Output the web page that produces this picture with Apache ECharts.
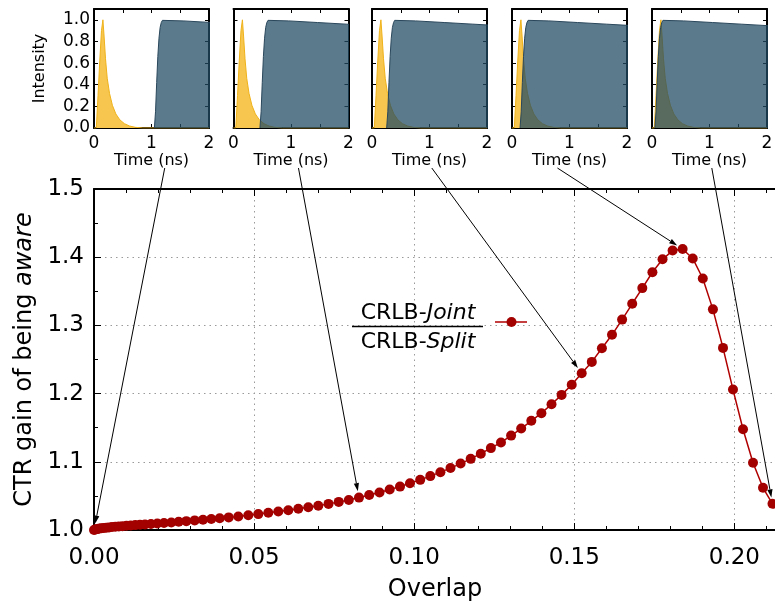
<!DOCTYPE html>
<html>
<head>
<meta charset="utf-8">
<script src="https://cdn.jsdelivr.net/npm/echarts@6/dist/echarts.min.js"></script>
<style>
  html, body { margin: 0; padding: 0; background: #fff; }
  #chart { width: 775px; height: 606px; }
</style>
</head>
<body>
<div id="chart"></div>
<script>
// Overlap between the two pulses and the CTR gain CRLB-Joint / CRLB-Split
const overlap = [
  0, 0.00031, 0.00072, 0.00119, 0.00172, 0.00234, 0.00306, 0.00384, 0.00468, 0.00562,
  0.00665, 0.00775, 0.00890, 0.01015, 0.01149, 0.01290, 0.01437, 0.01593, 0.01780, 0.01977,
  0.02186, 0.02414, 0.02645, 0.02883, 0.03145, 0.03404, 0.03663, 0.03926, 0.04207, 0.04507,
  0.04819, 0.05131, 0.05444, 0.05756, 0.06068, 0.06381, 0.06693, 0.07005, 0.07324, 0.07643,
  0.07958, 0.08276, 0.08595, 0.08917, 0.09235, 0.09557, 0.09869, 0.10188, 0.10503, 0.10819,
  0.11134, 0.11450, 0.11765, 0.12080, 0.12396, 0.12711, 0.13027, 0.13342, 0.13658, 0.13973,
  0.14289, 0.14604, 0.14920, 0.15232, 0.15547, 0.15863, 0.16178, 0.16494, 0.16809, 0.17125,
  0.17440, 0.17756, 0.18071, 0.18384, 0.18699, 0.19014, 0.19330, 0.19645, 0.19957, 0.20270,
  0.20582, 0.20894, 0.21191
];
const ctrGain = [
  1.0000, 1.0007, 1.0012, 1.0016, 1.0021, 1.0025, 1.0029, 1.0034, 1.0038, 1.0043,
  1.0047, 1.0051, 1.0056, 1.0062, 1.0066, 1.0072, 1.0076, 1.0082, 1.0088, 1.0094,
  1.0103, 1.0111, 1.0120, 1.0130, 1.0141, 1.0151, 1.0161, 1.0172, 1.0185, 1.0199,
  1.0216, 1.0233, 1.0252, 1.0271, 1.0290, 1.0311, 1.0333, 1.0356, 1.0383, 1.0412,
  1.0441, 1.0475, 1.0512, 1.0551, 1.0594, 1.0636, 1.0685, 1.0735, 1.0790, 1.0848,
  1.0908, 1.0974, 1.1043, 1.1119, 1.1201, 1.1284, 1.1384, 1.1487, 1.1601, 1.1713,
  1.1843, 1.1981, 1.2129, 1.2298, 1.2465, 1.2664, 1.2862, 1.3085, 1.3317, 1.3547,
  1.3779, 1.3969, 1.4097, 1.4120, 1.3982, 1.3688, 1.3235, 1.2670, 1.2059, 1.1478,
  1.0985, 1.0619, 1.0384
];

// Fast pulse (yellow): time in ns, normalised intensity
const fastTime  = [0, 0.04, 0.07, 0.10, 0.13, 0.155, 0.175, 0.20, 0.23, 0.27, 0.32, 0.38, 0.45, 0.53, 0.62, 0.72, 0.85, 2.0];
const fastLevel = [0, 0, 0.30, 0.62, 0.90, 1.00, 0.85, 0.64, 0.46, 0.32, 0.21, 0.13, 0.075, 0.04, 0.018, 0.006, 0, 0];

// Slow pulse (blue): time after its onset in ns, normalised intensity
const slowTime  = [0, 0.02, 0.04, 0.06, 0.08, 0.10, 0.12, 0.14, 0.16, 0.50, 1.00, 1.50, 2.00];
const slowLevel = [0, 0.15, 0.42, 0.66, 0.83, 0.93, 0.975, 0.995, 1.00, 0.99, 0.975, 0.96, 0.945];

// Onset of the slow pulse in each inset (ns)
const slowOnset = [1.05, 0.46, 0.255, 0.14, 0.05];

// Point on the curve each inset belongs to, and where its arrow leaves the inset
const insetPoint = [0, 41, 63, 73, 82];
const arrowFromTime = [1.23, 1.13, 1.04, 0.79, 1.04];
const arrowFromLevel = -0.37;

// Axis ticks
const overlapTicks = { min: 0, max: 0.213, step: 0.05 };
const gainTicks = { min: 1.0, max: 1.5, step: 0.1 };
const insetTimeTicks = { min: 0, max: 2, step: 0.5 };
const insetLevelTicks = { min: 0, max: 1.1, step: 0.2 };

const FONT = 'DejaVu Sans';
const insetLeft = [94, 233.5, 372, 512, 652];
const mainColor = '#a30000';

const chart = echarts.init(document.getElementById('chart'), null, { renderer: 'canvas' });

const grids = [{ left: 94, top: 189, width: 682, height: 341, outerBoundsMode: 'none', containLabel: false }];
const xAxes = [];
const yAxes = [];
const series = [];

const blackLine = { show: true, onZero: false, lineStyle: { color: '#000', width: 2 } };

// main chart axes
xAxes.push({
  gridIndex: 0, type: 'value', position: 'bottom',
  min: overlapTicks.min, max: overlapTicks.max, interval: overlapTicks.step,
  axisLine: blackLine,
  axisTick: { show: true, inside: true, length: 7, lineStyle: { color: '#000', width: 1 } },
  minorTick: { show: true, splitNumber: 5, length: 4, lineStyle: { color: '#000', width: 1 } },
  splitLine: { show: true, lineStyle: { color: '#9a9a9a', width: 1, type: [1.5, 4] } },
  axisLabel: { show: true, fontFamily: FONT, fontSize: 23, color: '#000', margin: 17,
    showMaxLabel: false, formatter: v => v.toFixed(2) },
  name: 'Overlap', nameLocation: 'middle', nameGap: 48,
  nameTextStyle: { fontFamily: FONT, fontSize: 24, color: '#000' }
});
xAxes.push({
  gridIndex: 0, type: 'value', position: 'top',
  min: overlapTicks.min, max: overlapTicks.max, interval: overlapTicks.step,
  axisLine: blackLine,
  axisTick: { show: true, inside: true, length: 7, lineStyle: { color: '#000', width: 1 } },
  minorTick: { show: true, splitNumber: 5, length: 4, lineStyle: { color: '#000', width: 1 } },
  splitLine: { show: false }, axisLabel: { show: false }
});
yAxes.push({
  gridIndex: 0, type: 'value', position: 'left',
  min: gainTicks.min, max: gainTicks.max, interval: gainTicks.step,
  axisLine: blackLine,
  axisTick: { show: true, inside: true, length: 7, lineStyle: { color: '#000', width: 1 } },
  minorTick: { show: true, splitNumber: 2, length: 4, lineStyle: { color: '#000', width: 1 } },
  splitLine: { show: true, lineStyle: { color: '#9a9a9a', width: 1, type: [1.5, 4] } },
  axisLabel: { show: true, fontFamily: FONT, fontSize: 23, color: '#000', margin: 10,
    formatter: v => v.toFixed(1) },
  name: '{n|CTR gain of being }{i|aware}', nameLocation: 'middle', nameGap: 56,
  nameTextStyle: {
    color: '#000',
    rich: {
      n: { fontFamily: FONT, fontSize: 24, color: '#000' },
      i: { fontFamily: FONT, fontSize: 24, fontStyle: 'italic', color: '#000' }
    }
  }
});

series.push({
  type: 'line', name: 'ratio', xAxisIndex: 0, yAxisIndex: 0,
  data: overlap.map((x, i) => [x, ctrGain[i]]),
  symbol: 'circle', symbolSize: 10, showSymbol: true, clip: false,
  lineStyle: { color: '#b00000', width: 1.5 },
  itemStyle: { color: mainColor },
  z: 5, animation: false
});

// inset panels
slowOnset.forEach((onset, k) => {
  const gi = k + 1;
  grids.push({ left: insetLeft[k], top: 9, width: 115, height: 119, outerBoundsMode: 'none', containLabel: false });
  const tickStyle = { show: true, inside: true, length: 4, lineStyle: { color: '#000', width: 1 } };
  xAxes.push({
    gridIndex: gi, type: 'value', position: 'bottom',
    min: insetTimeTicks.min, max: insetTimeTicks.max, interval: insetTimeTicks.step,
    axisLine: blackLine, axisTick: tickStyle, splitLine: { show: false },
    axisLabel: { show: true, fontFamily: FONT, fontSize: 17, color: '#000', margin: 7,
      formatter: v => (Number.isInteger(v) ? String(v) : '') },
    name: 'Time (ns)', nameLocation: 'middle', nameGap: 25,
    nameTextStyle: { fontFamily: FONT, fontSize: 16, color: '#000' }
  });
  xAxes.push({
    gridIndex: gi, type: 'value', position: 'top',
    min: insetTimeTicks.min, max: insetTimeTicks.max, interval: insetTimeTicks.step,
    axisLine: blackLine, axisTick: tickStyle, splitLine: { show: false }, axisLabel: { show: false }
  });
  yAxes.push({
    gridIndex: gi, type: 'value', position: 'left',
    min: insetLevelTicks.min, max: insetLevelTicks.max, interval: insetLevelTicks.step,
    axisLine: blackLine, axisTick: tickStyle, splitLine: { show: false },
    axisLabel: { show: k === 0, fontFamily: FONT, fontSize: 17, color: '#000', margin: 4,
      showMaxLabel: false, formatter: v => v.toFixed(1) },
    name: k === 0 ? 'Intensity' : '', nameLocation: 'middle', nameGap: 46,
    nameTextStyle: { fontFamily: FONT, fontSize: 16, color: '#000' }
  });
  yAxes.push({
    gridIndex: gi, type: 'value', position: 'right',
    min: insetLevelTicks.min, max: insetLevelTicks.max, interval: insetLevelTicks.step,
    axisLine: blackLine, axisTick: tickStyle, splitLine: { show: false }, axisLabel: { show: false }
  });
  const xi = 2 + 2 * k, yi = 1 + 2 * k;
  series.push({
    type: 'line', xAxisIndex: xi, yAxisIndex: yi,
    data: fastTime.map((t, i) => [t, fastLevel[i]]),
    symbol: 'none', clip: true,
    lineStyle: { color: '#efb21a', width: 1 },
    areaStyle: { color: '#f6c64e', opacity: 1 },
    z: 2, animation: false
  });
  series.push({
    type: 'line', xAxisIndex: xi, yAxisIndex: yi,
    data: slowTime.map((t, i) => [onset + t, slowLevel[i]]),
    symbol: 'none', clip: true,
    lineStyle: { color: '#2a475b', width: 1 },
    areaStyle: { color: 'rgba(34,76,100,0.74)', opacity: 1 },
    z: 3, animation: false
  });
});

chart.setOption({
  animation: false,
  backgroundColor: '#fff',
  grid: grids,
  xAxis: xAxes,
  yAxis: yAxes,
  series: series
});

// annotations: fraction legend, legend sample and arrows from insets to the curve
const graphics = [];
const txt = (italic, y) => ({
  type: 'text', x: 418, y: y, z: 20,
  style: {
    text: '{r|CRLB-}{i|' + italic + '}',
    align: 'center', verticalAlign: 'middle',
    rich: {
      r: { fontFamily: FONT, fontSize: 22, fill: '#000' },
      i: { fontFamily: FONT, fontSize: 22, fontStyle: 'italic', fill: '#000' }
    }
  }
});
graphics.push(txt('Joint', 313));
graphics.push(txt('Split', 342));
graphics.push({ type: 'line', z: 20, shape: { x1: 352, y1: 326.5, x2: 483, y2: 326.5 },
  style: { stroke: '#000', lineWidth: 1.5 } });
graphics.push({ type: 'line', z: 20, shape: { x1: 495, y1: 322, x2: 527, y2: 322 },
  style: { stroke: '#b00000', lineWidth: 1.5 } });
graphics.push({ type: 'circle', z: 21, shape: { cx: 511.5, cy: 322, r: 5 },
  style: { fill: mainColor } });

insetPoint.forEach((pi, k) => {
  const from = chart.convertToPixel({ xAxisIndex: 2 + 2 * k, yAxisIndex: 1 + 2 * k },
    [arrowFromTime[k], arrowFromLevel]);
  const p = chart.convertToPixel({ xAxisIndex: 0, yAxisIndex: 0 }, [overlap[pi], ctrGain[pi]]);
  const dx = p[0] - from[0], dy = p[1] - from[1];
  const len = Math.hypot(dx, dy);
  const ux = dx / len, uy = dy / len;
  const tip = [p[0] - ux * 6.5, p[1] - uy * 6.5];
  const base = [tip[0] - ux * 8, tip[1] - uy * 8];
  graphics.push({ type: 'line', z: 30,
    shape: { x1: from[0], y1: from[1], x2: base[0], y2: base[1] },
    style: { stroke: '#000', lineWidth: 1 } });
  graphics.push({ type: 'polygon', z: 30,
    shape: { points: [tip, [base[0] - uy * 2.6, base[1] + ux * 2.6], [base[0] + uy * 2.6, base[1] - ux * 2.6]] },
    style: { fill: '#000' } });
});

chart.setOption({ graphic: graphics });
</script>
</body>
</html>
